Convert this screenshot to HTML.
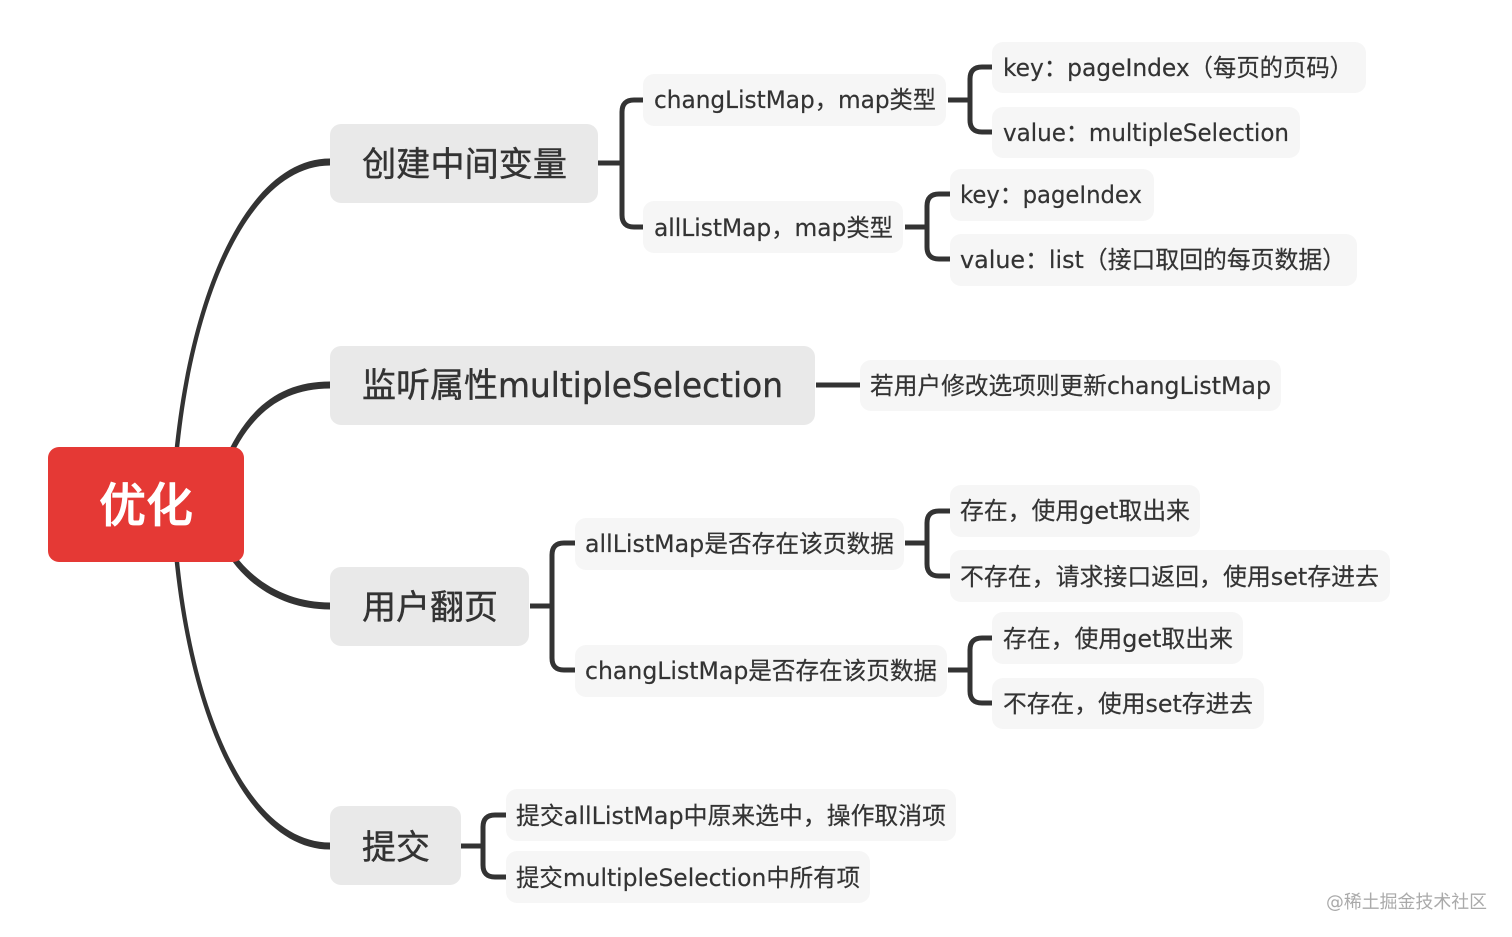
<!DOCTYPE html>
<html><head><meta charset="utf-8"><style>
html,body{margin:0;padding:0;background:#fff;width:1512px;height:937px;overflow:hidden}
svg{display:block}
text{font-family:"DejaVu Sans","Noto Sans CJK SC",sans-serif;fill:#333;stroke:#333;stroke-width:.2px}
.s{font-size:24px}
.m{font-size:34px;stroke-width:.4px}
.l2{fill:#e9e9e9}
.l3{fill:#f6f6f6}
path{fill:none;stroke:#333;stroke-width:5}
path.t{fill:#333;stroke:none}
</style></head><body>
<svg width="1512" height="937" viewBox="0 0 1512 937" xmlns="http://www.w3.org/2000/svg">
<path class="t" d="M174 455C190 290 248 158.500 330 158.500V165.500C252 165.500 194 290 178.500 455Z"/>
<path class="t" d="M222 465C246 408 280 381.500 330 381.500V388.500C284 388.500 250 412 227 467Z"/>
<path class="t" d="M222 545C244 586 284 609.500 330 609.500V602.500C288 602.500 250 582 227 543Z"/>
<path class="t" d="M174 555C190 720 248 849.500 330 849.500V842.500C252 842.500 194 720 178.500 555Z"/>
<path d="M598 163H622M643 100H634Q622 100 622 112V215Q622 227 634 227H643"/>
<path d="M948 100H970M992 67H982Q970 67 970 79V120Q970 132 982 132H992"/>
<path d="M905 227H927M950 194H939Q927 194 927 206V247Q927 259 939 259H950"/>
<path d="M816 385H860"/>
<path d="M530 606H552M575 543H564Q552 543 552 555V658Q552 670 564 670H575"/>
<path d="M905 543H927M950 511H939Q927 511 927 523V564Q927 576 939 576H950"/>
<path d="M948 670H970M992 638H982Q970 638 970 650V691Q970 703 982 703H992"/>
<path d="M461 846H483M506 815H495Q483 815 483 827V865Q483 877 495 877H506"/>

<rect x="48" y="447" width="196" height="115" rx="11" fill="#e53935"/>
<text x="99" y="522" font-size="47" font-weight="500" style="fill:#fff;stroke:#fff;stroke-width:.8px" textLength="94" lengthAdjust="spacingAndGlyphs">优化</text>

<rect class="l2" x="330" y="124" width="268" height="79" rx="11"/>
<text class="m" x="362" y="176" textLength="205" lengthAdjust="spacingAndGlyphs">创建中间变量</text>
<rect class="l2" x="330" y="346" width="485" height="79" rx="11"/>
<text class="m" x="362" y="397"><tspan x="362" textLength="136" lengthAdjust="spacingAndGlyphs">监听属性</tspan><tspan x="498" textLength="285" lengthAdjust="spacingAndGlyphs">multipleSelection</tspan></text>
<rect class="l2" x="330" y="567" width="199" height="79" rx="11"/>
<text class="m" x="362" y="619" textLength="136" lengthAdjust="spacingAndGlyphs">用户翻页</text>
<rect class="l2" x="330" y="806" width="131" height="79" rx="11"/>
<text class="m" x="362" y="859" textLength="68" lengthAdjust="spacingAndGlyphs">提交</text>

<rect class="l3" x="643" y="74" width="303" height="52" rx="11"/>
<text class="s" x="654" y="108" textLength="282" lengthAdjust="spacingAndGlyphs">changListMap，map类型</text>
<rect class="l3" x="643" y="201" width="260" height="52" rx="11"/>
<text class="s" x="654" y="236" textLength="239" lengthAdjust="spacingAndGlyphs">allListMap，map类型</text>
<rect class="l3" x="992" y="42" width="374" height="51" rx="11"/>
<text class="s" x="1003" y="76" textLength="350" lengthAdjust="spacingAndGlyphs">key：pageIndex（每页的页码）</text>
<rect class="l3" x="992" y="107" width="308" height="51" rx="11"/>
<text class="s" x="1003" y="141" textLength="286" lengthAdjust="spacingAndGlyphs">value：multipleSelection</text>
<rect class="l3" x="950" y="169" width="204" height="52" rx="11"/>
<text class="s" x="960" y="203" textLength="182" lengthAdjust="spacingAndGlyphs">key：pageIndex</text>
<rect class="l3" x="950" y="234" width="407" height="52" rx="11"/>
<text class="s" x="960" y="268" textLength="386" lengthAdjust="spacingAndGlyphs">value：list（接口取回的每页数据）</text>
<rect class="l3" x="860" y="360" width="421" height="51" rx="11"/>
<text class="s" x="870" y="394" textLength="401" lengthAdjust="spacingAndGlyphs">若用户修改选项则更新changListMap</text>
<rect class="l3" x="575" y="518" width="329" height="52" rx="11"/>
<text class="s" x="585" y="552" textLength="309" lengthAdjust="spacingAndGlyphs">allListMap是否存在该页数据</text>
<rect class="l3" x="575" y="645" width="372" height="52" rx="11"/>
<text class="s" x="585" y="679" textLength="352" lengthAdjust="spacingAndGlyphs">changListMap是否存在该页数据</text>
<rect class="l3" x="950" y="485" width="250" height="52" rx="11"/>
<text class="s" x="960" y="519" textLength="230" lengthAdjust="spacingAndGlyphs">存在，使用get取出来</text>
<rect class="l3" x="950" y="550" width="440" height="52" rx="11"/>
<text class="s" x="960" y="585" textLength="419" lengthAdjust="spacingAndGlyphs">不存在，请求接口返回，使用set存进去</text>
<rect class="l3" x="992" y="612" width="251" height="52" rx="11"/>
<text class="s" x="1003" y="647" textLength="230" lengthAdjust="spacingAndGlyphs">存在，使用get取出来</text>
<rect class="l3" x="992" y="678" width="272" height="51" rx="11"/>
<text class="s" x="1003" y="712" textLength="250" lengthAdjust="spacingAndGlyphs">不存在，使用set存进去</text>
<rect class="l3" x="506" y="789" width="450" height="52" rx="11"/>
<text class="s" x="516" y="824" textLength="430" lengthAdjust="spacingAndGlyphs">提交allListMap中原来选中，操作取消项</text>
<rect class="l3" x="506" y="851" width="364" height="52" rx="11"/>
<text class="s" x="516" y="886" textLength="344" lengthAdjust="spacingAndGlyphs">提交multipleSelection中所有项</text>

<text x="1326" y="908" font-size="18" style="fill:#aaa;stroke:none" textLength="161" lengthAdjust="spacingAndGlyphs">@稀土掘金技术社区</text>
</svg>
</body></html>
